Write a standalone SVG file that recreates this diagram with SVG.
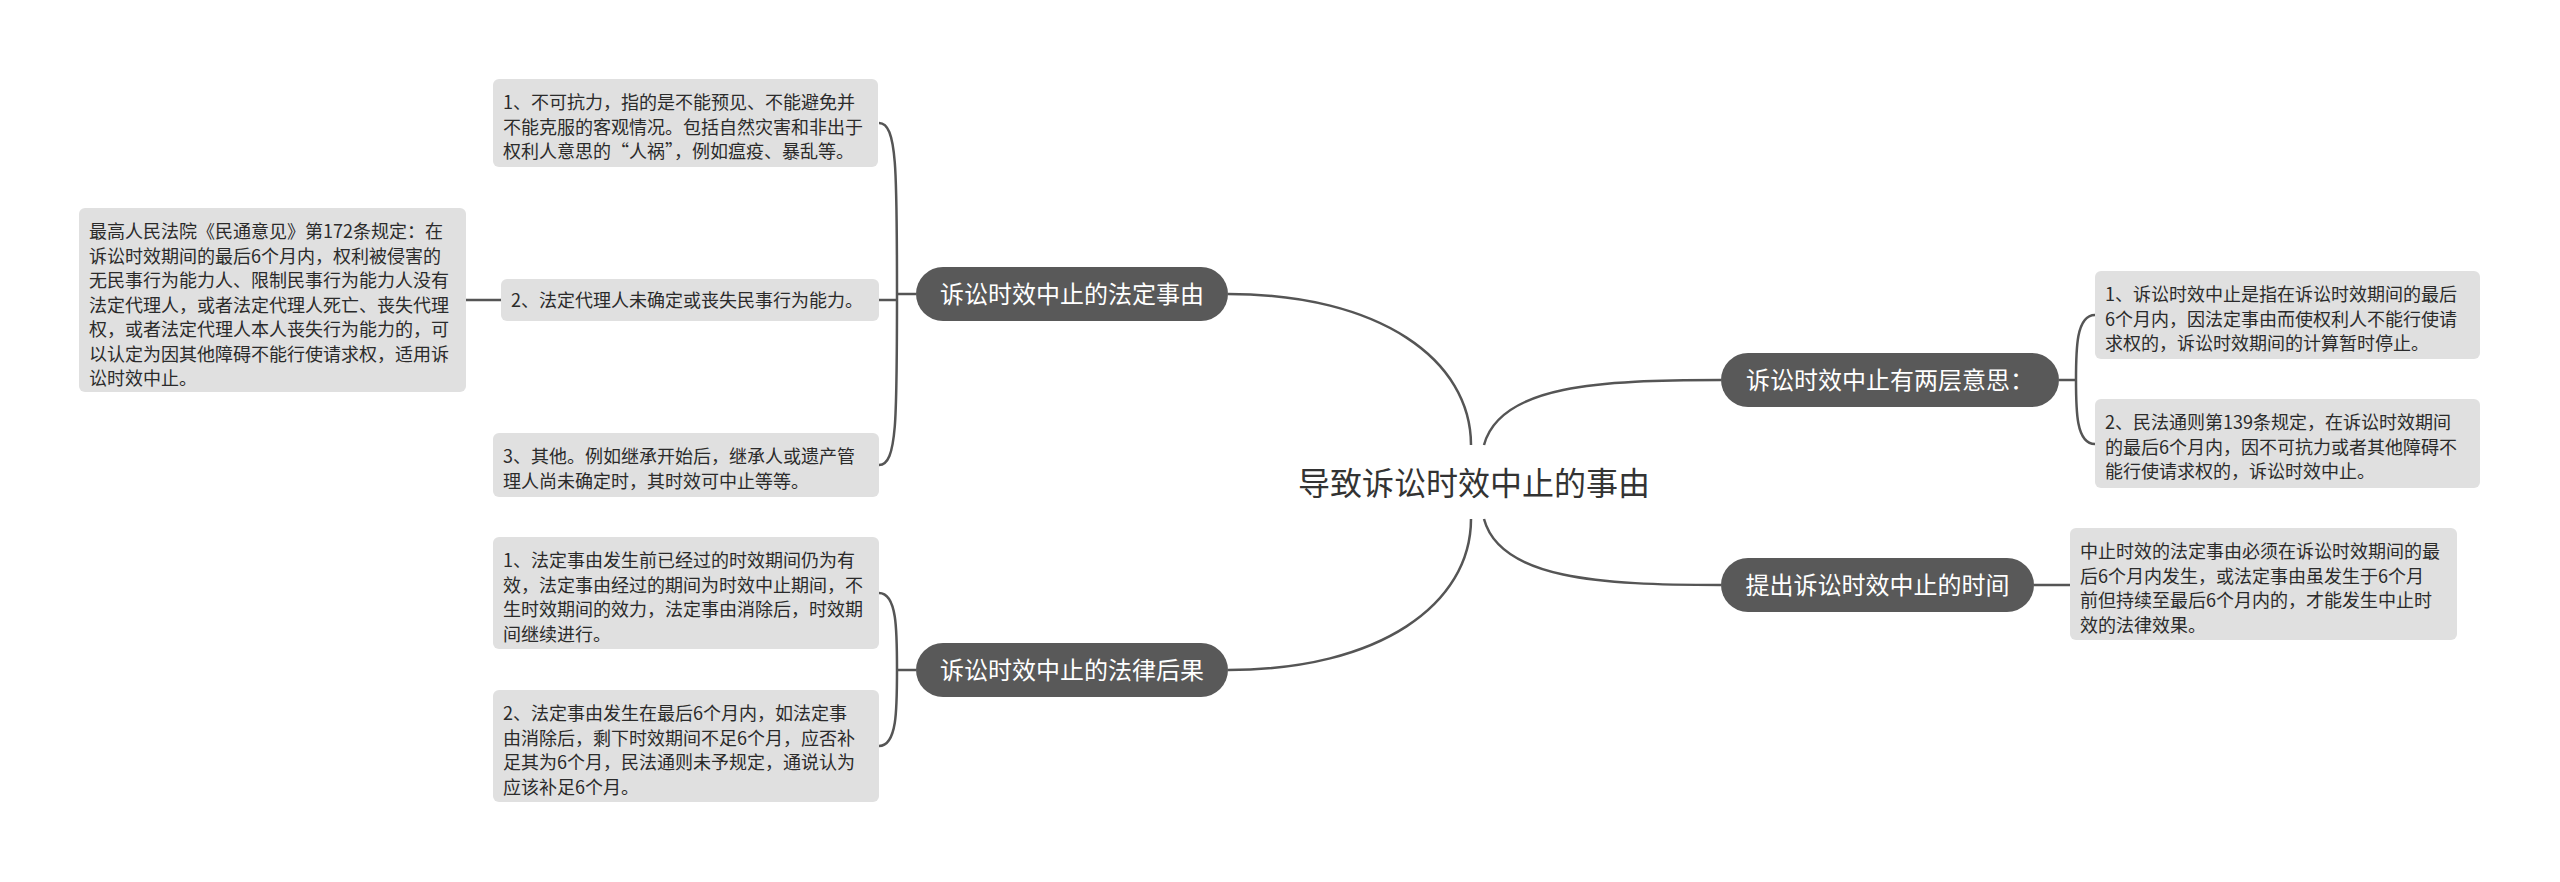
<svg xmlns="http://www.w3.org/2000/svg" width="2560" height="882" viewBox="0 0 2560 882">
<style>
.bg{fill:#ffffff}
.conn path{fill:none;stroke:#555555;stroke-width:2.5}
.pill rect{fill:#595959}
.pill text{fill:#ffffff;font-family:"Noto Sans CJK SC","Noto Sans",sans-serif;font-size:24px;text-anchor:middle}
.box rect{fill:#e0e0e0}
.box text{fill:#2b2b2b;font-family:"Noto Sans CJK SC","Noto Sans",sans-serif;font-size:18px}
.root text{fill:#333333;font-family:"Noto Sans CJK SC","Noto Sans",sans-serif;font-size:32px;text-anchor:middle}
</style>
<rect class="bg" x="0" y="0" width="2560" height="882"/>
<g id="connectors" class="conn">
<path d="M1471,445 C1471,360 1380,294 1228,294"/>
<path d="M1471,519 C1471,604 1380,670 1228,670"/>
<path d="M1484,445 C1500,385 1600,380 1721,380"/>
<path d="M1484,519 C1500,579 1600,585 1721,585"/>
<path d="M916,294 H897"/>
<path d="M897,294 C897,170 897,123 879,123"/>
<path d="M897,294 C897,420 897,465 879,465"/>
<path d="M897,300 H879"/>
<path d="M501,300 H466"/>
<path d="M916,670 H897"/>
<path d="M897,670 C897,630 897,593 879,593"/>
<path d="M897,670 C897,710 897,746 879,746"/>
<path d="M2059,380 H2076"/>
<path d="M2076,380 C2076,350 2076,315 2095,315"/>
<path d="M2076,380 C2076,410 2076,444 2095,444"/>
<path d="M2034,585 H2070"/>
</g>
<g id="root" class="root"><text x="1474" y="495">导致诉讼时效中止的事由</text></g>
<g id="n-fading" class="pill"><rect x="916" y="267" width="312" height="54" rx="27"/><text x="1072" y="303">诉讼时效中止的法定事由</text></g>
<g id="n-houguo" class="pill"><rect x="916" y="643" width="312" height="54" rx="27"/><text x="1072" y="679">诉讼时效中止的法律后果</text></g>
<g id="n-yisi" class="pill"><rect x="1721" y="353" width="338" height="54" rx="27"/><text x="1890" y="389">诉讼时效中止有两层意思：</text></g>
<g id="n-shijian" class="pill"><rect x="1721" y="558" width="313" height="54" rx="27"/><text x="1877.5" y="594">提出诉讼时效中止的时间</text></g>
<g id="c1" class="box"><rect x="493" y="79" width="385" height="88" rx="6"/>
<text x="503" y="109">1、不可抗力，指的是不能预见、不能避免并</text>
<text x="503" y="133.5">不能克服的客观情况。包括自然灾害和非出于</text>
<text x="503" y="158">权利人意思的“人祸”，例如瘟疫、暴乱等。</text></g>
<g id="c2" class="box"><rect x="501" y="279" width="378" height="42" rx="6"/>
<text x="511" y="307">2、法定代理人未确定或丧失民事行为能力。</text></g>
<g id="c3" class="box"><rect x="493" y="433" width="386" height="64" rx="6"/>
<text x="503" y="463">3、其他。例如继承开始后，继承人或遗产管</text>
<text x="503" y="487.5">理人尚未确定时，其时效可中止等等。</text></g>
<g id="g1" class="box"><rect x="79" y="208" width="387" height="184" rx="6"/>
<text x="89" y="238">最高人民法院《民通意见》第172条规定：在</text>
<text x="89" y="262.5">诉讼时效期间的最后6个月内，权利被侵害的</text>
<text x="89" y="287">无民事行为能力人、限制民事行为能力人没有</text>
<text x="89" y="311.5">法定代理人，或者法定代理人死亡、丧失代理</text>
<text x="89" y="336">权，或者法定代理人本人丧失行为能力的，可</text>
<text x="89" y="360.5">以认定为因其他障碍不能行使请求权，适用诉</text>
<text x="89" y="385">讼时效中止。</text></g>
<g id="d1" class="box"><rect x="493" y="537" width="386" height="112" rx="6"/>
<text x="503" y="567">1、法定事由发生前已经过的时效期间仍为有</text>
<text x="503" y="591.5">效，法定事由经过的期间为时效中止期间，不</text>
<text x="503" y="616">生时效期间的效力，法定事由消除后，时效期</text>
<text x="503" y="640.5">间继续进行。</text></g>
<g id="d2" class="box"><rect x="493" y="690" width="386" height="112" rx="6"/>
<text x="503" y="720">2、法定事由发生在最后6个月内，如法定事</text>
<text x="503" y="744.5">由消除后，剩下时效期间不足6个月，应否补</text>
<text x="503" y="769">足其为6个月，民法通则未予规定，通说认为</text>
<text x="503" y="793.5">应该补足6个月。</text></g>
<g id="e1" class="box"><rect x="2095" y="271" width="385" height="88" rx="6"/>
<text x="2105" y="301">1、诉讼时效中止是指在诉讼时效期间的最后</text>
<text x="2105" y="325.5">6个月内，因法定事由而使权利人不能行使请</text>
<text x="2105" y="350">求权的，诉讼时效期间的计算暂时停止。</text></g>
<g id="e2" class="box"><rect x="2095" y="399" width="385" height="89" rx="6"/>
<text x="2105" y="429">2、民法通则第139条规定，在诉讼时效期间</text>
<text x="2105" y="453.5">的最后6个月内，因不可抗力或者其他障碍不</text>
<text x="2105" y="478">能行使请求权的，诉讼时效中止。</text></g>
<g id="f1" class="box"><rect x="2070" y="528" width="387" height="112" rx="6"/>
<text x="2080" y="558">中止时效的法定事由必须在诉讼时效期间的最</text>
<text x="2080" y="582.5">后6个月内发生，或法定事由虽发生于6个月</text>
<text x="2080" y="607">前但持续至最后6个月内的，才能发生中止时</text>
<text x="2080" y="631.5">效的法律效果。</text></g>
</svg>
